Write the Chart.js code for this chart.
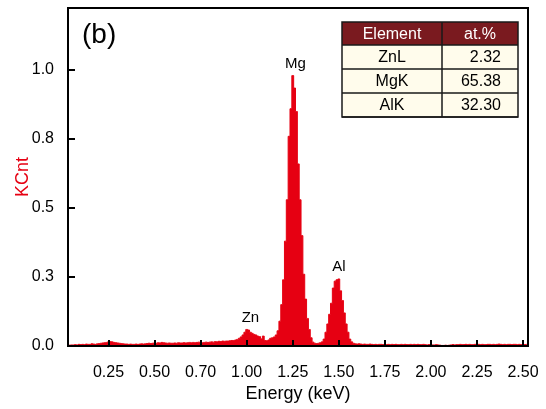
<!DOCTYPE html>
<html>
<head>
<meta charset="utf-8">
<title>EDS spectrum (b)</title>
<script src="https://cdn.jsdelivr.net/npm/chart.js@4.4.1/dist/chart.umd.min.js"></script>
<style>
  html, body { margin: 0; padding: 0; background: #fff; }
  #wrap { width: 546px; height: 409px; }
</style>
</head>
<body>
<div id="wrap"><canvas id="edsChart" width="546" height="409"></canvas></div>
<script>
// Canales del espectro: 0.03 keV a 2.52 keV, cada 0.01 keV
const channelStart = 0.03;
const channelStep = 0.01;
const counts = [
  0.002, 0.003, 0.004, 0.004, 0.005, 0.004, 0.006,
  0.005, 0.006, 0.005, 0.007, 0.006, 0.006, 0.008, 0.007, 0.006, 0.008,
  0.009, 0.010, 0.011, 0.012, 0.013, 0.015, 0.016, 0.015, 0.013, 0.012,
  0.011, 0.010, 0.009, 0.008, 0.007, 0.007, 0.006, 0.007, 0.006, 0.006,
  0.007, 0.006, 0.007, 0.008, 0.007, 0.008, 0.009, 0.010, 0.009, 0.010,
  0.011, 0.010, 0.012, 0.011, 0.013, 0.012, 0.011, 0.010, 0.011, 0.010,
  0.010, 0.011, 0.010, 0.012, 0.011, 0.011, 0.012, 0.011, 0.012, 0.013,
  0.012, 0.013, 0.012, 0.013, 0.014, 0.013, 0.012, 0.013, 0.014, 0.013,
  0.014, 0.015, 0.014, 0.016, 0.015, 0.017, 0.016, 0.018, 0.017, 0.018,
  0.018, 0.019, 0.020, 0.020, 0.022, 0.024, 0.028, 0.033, 0.040, 0.050,
  0.060, 0.058, 0.050, 0.046, 0.042, 0.040, 0.036, 0.034, 0.026, 0.036,
  0.020, 0.019, 0.022, 0.028, 0.030, 0.033, 0.040, 0.055, 0.090, 0.150,
  0.240, 0.380, 0.530, 0.760, 0.860, 0.980, 0.935, 0.850, 0.660, 0.530,
  0.400, 0.260, 0.170, 0.100, 0.060, 0.030, 0.014, 0.010, 0.009, 0.010,
  0.012, 0.015, 0.025, 0.050, 0.080, 0.115, 0.155, 0.210, 0.235, 0.240,
  0.243, 0.200, 0.165, 0.120, 0.080, 0.050, 0.025, 0.015, 0.010, 0.008,
  0.007, 0.008, 0.007, 0.006, 0.007, 0.006, 0.006, 0.007, 0.006, 0.005,
  0.006, 0.005, 0.006, 0.006, 0.005, 0.006, 0.005, 0.006, 0.005, 0.006,
  0.005, 0.006, 0.005, 0.005, 0.006, 0.005, 0.006, 0.005, 0.005, 0.006,
  0.005, 0.006, 0.005, 0.006, 0.005, 0.005, 0.006, 0.005, 0.004, 0.005,
  0.005, 0.004, 0.004, 0.005, 0.004, 0.003, 0.002, 0.002, 0.003, 0.002,
  0.003, 0.004, 0.005, 0.004, 0.005, 0.005, 0.006, 0.005, 0.005, 0.006,
  0.005, 0.006, 0.005, 0.005, 0.006, 0.005, 0.006, 0.005, 0.006, 0.005,
  0.005, 0.006, 0.006, 0.005, 0.006, 0.005, 0.006, 0.007, 0.006, 0.005,
  0.006, 0.005, 0.006, 0.006, 0.005, 0.006, 0.006, 0.005, 0.006, 0.005,
  0.006, 0.005, 0.006
];

// Ejes
const xTickValues = [0.25, 0.5, 0.75, 1.0, 1.25, 1.5, 1.75, 2.0, 2.25, 2.5];
const xTickLabels = ['0.25', '0.50', '0.70', '1.00', '1.25', '1.50', '1.75', '2.00', '2.25', '2.50'];
const yTickValues = [0, 0.25, 0.5, 0.75, 1.0];
const yTickLabels = ['0.0', '0.3', '0.5', '0.8', '1.0'];

// Picos etiquetados
const peakLabels = ['Zn', 'Mg', 'Al'];
const peakEnergies = [1.02, 1.265, 1.50];

// Tabla de composicion
const tableHeader = ['Element', 'at.%'];
const tableElements = ['ZnL', 'MgK', 'AlK'];
const tableAtPct = ['2.32', '65.38', '32.30'];

const red = '#e60012';
const fontFamily = '"Liberation Sans", Arial, sans-serif';

const points = counts.map((c, i) => ({ x: +(channelStart + i * channelStep).toFixed(2), y: c }));

// Marco, marcas internas, etiquetas de picos, "(b)" y tabla
const decorPlugin = {
  id: 'decor',
  afterDatasetsDraw(chart) {
    const { ctx, chartArea: a, scales: { x, y } } = chart;
    ctx.save();

    ctx.strokeStyle = '#000';
    ctx.lineWidth = 2;
    ctx.beginPath();
    xTickValues.forEach(v => {
      const px = Math.round(x.getPixelForValue(v));
      ctx.moveTo(px, a.bottom);
      ctx.lineTo(px, a.bottom - 6);
    });
    yTickValues.forEach(v => {
      const py = Math.round(y.getPixelForValue(v));
      ctx.moveTo(a.left, py);
      ctx.lineTo(a.left + 7, py);
    });
    ctx.stroke();
    ctx.strokeRect(a.left, a.top, a.right - a.left, a.bottom - a.top);

    // etiquetas de picos
    ctx.fillStyle = '#000';
    ctx.font = '15px ' + fontFamily;
    ctx.textAlign = 'center';
    ctx.textBaseline = 'middle';
    peakLabels.forEach((lbl, i) => {
      const e = peakEnergies[i];
      let top = 0;
      points.forEach(p => { if (Math.abs(p.x - e) <= 0.03 && p.y > top) top = p.y; });
      ctx.fillText(lbl, x.getPixelForValue(e), y.getPixelForValue(top) - 12);
    });

    // letra del panel
    ctx.textAlign = 'left';
    ctx.font = '28px ' + fontFamily;
    ctx.fillText('(b)', a.left + 14, a.top + 27);

    // tabla
    const tRight = a.right - 10;
    const tLeft = tRight - 176;
    const tTop = a.top + 14;
    const colSplit = tLeft + 100;
    const headH = 23;
    const rowH = 24;
    const tBottom = tTop + headH + rowH * tableElements.length;

    ctx.fillStyle = '#7a1a1f';
    ctx.fillRect(tLeft, tTop, tRight - tLeft, headH);
    ctx.fillStyle = '#fffcec';
    ctx.fillRect(tLeft, tTop + headH, tRight - tLeft, tBottom - tTop - headH);

    ctx.strokeStyle = '#1a1a1a';
    ctx.lineWidth = 1.5;
    ctx.beginPath();
    for (let r = 0; r <= tableElements.length; r++) {
      const ry = tTop + headH + r * rowH;
      ctx.moveTo(tLeft, ry);
      ctx.lineTo(tRight, ry);
    }
    ctx.moveTo(colSplit, tTop);
    ctx.lineTo(colSplit, tBottom);
    ctx.stroke();
    ctx.strokeRect(tLeft, tTop, tRight - tLeft, tBottom - tTop);

    ctx.font = '16px ' + fontFamily;
    ctx.textBaseline = 'middle';
    ctx.textAlign = 'center';
    ctx.fillStyle = '#fff';
    ctx.fillText(tableHeader[0], (tLeft + colSplit) / 2, tTop + headH / 2 + 1);
    ctx.fillText(tableHeader[1], (colSplit + tRight) / 2, tTop + headH / 2 + 1);
    ctx.fillStyle = '#000';
    tableElements.forEach((el, r) => {
      const cy = tTop + headH + r * rowH + rowH / 2 + 1;
      ctx.textAlign = 'center';
      ctx.fillText(el, (tLeft + colSplit) / 2, cy);
      ctx.textAlign = 'right';
      ctx.fillText(tableAtPct[r], tRight - 17, cy);
    });

    ctx.restore();
  }
};

const ctx = document.getElementById('edsChart').getContext('2d');
const edsChart = new Chart(ctx, {
  type: 'line',
  data: {
    datasets: [{
      data: points,
      stepped: 'middle',
      borderColor: red,
      borderWidth: 1,
      backgroundColor: red,
      fill: 'origin',
      pointRadius: 0
    }]
  },
  options: {
    responsive: false,
    animation: false,
    devicePixelRatio: 1,
    layout: { padding: { top: 8, right: 18, left: 0, bottom: 0 } },
    plugins: { legend: { display: false }, tooltip: { enabled: false } },
    scales: {
      x: {
        type: 'linear',
        min: 0.03,
        max: 2.527,
        grid: { display: false },
        border: { display: false },
        afterFit: s => { s.height = 63; s.paddingLeft = 0; s.paddingRight = 0; },
        afterBuildTicks: s => { s.ticks = xTickValues.map(v => ({ value: v })); },
        ticks: {
          autoSkip: false,
          maxRotation: 0,
          padding: 9,
          color: '#000',
          font: { size: 16, family: fontFamily },
          callback: (v, i) => xTickLabels[i]
        },
        title: {
          display: true,
          text: 'Energy (keV)',
          color: '#000',
          font: { size: 18, family: fontFamily },
          padding: { top: 0, bottom: 4 }
        }
      },
      y: {
        min: 0,
        max: 1.225,
        grid: { display: false },
        border: { display: false },
        afterFit: s => { s.width = 68; s.paddingTop = 0; s.paddingBottom = 0; },
        afterBuildTicks: s => { s.ticks = yTickValues.map(v => ({ value: v })); },
        ticks: {
          padding: 6,
          color: '#000',
          font: { size: 16, family: fontFamily },
          callback: (v, i) => yTickLabels[i]
        },
        title: {
          display: true,
          text: 'KCnt',
          color: red,
          font: { size: 18, family: fontFamily },
          padding: { top: 12, bottom: 0 }
        }
      }
    }
  },
  plugins: [decorPlugin]
});
</script>
</body>
</html>
